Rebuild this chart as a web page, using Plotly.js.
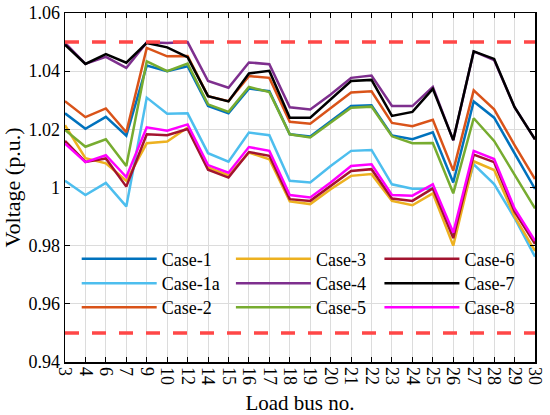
<!DOCTYPE html>
<html>
<head>
<meta charset="utf-8">
<script src="https://cdn.plot.ly/plotly-3.0.1.min.js"></script>
<style>html,body{margin:0;padding:0;background:#fff}#chart{width:550px;height:415px}</style>
</head>
<body>
<div id="chart"></div>
<script>
const buses = ['3','4','6','7','9','10','12','14','15','16','17','18','19','20','21','22','23','24','25','26','27','28','29','30'];

const case1  = [1.0255,1.0202,1.0243,1.0178,1.0419,1.0400,1.0417,1.0280,1.0255,1.0340,1.0331,1.0183,1.0175,1.0228,1.0280,1.0283,1.0179,1.0166,1.0190,1.0017,1.0296,1.0240,1.0115,0.9995];
const case1a = [1.0023,0.9974,1.0016,0.9935,1.0309,1.0254,1.0255,1.0118,1.0089,1.0189,1.0180,1.0023,1.0017,1.0074,1.0126,1.0129,1.0011,0.9996,0.9996,0.9835,1.0080,1.0012,0.9895,0.9762];
const case2  = [1.0297,1.0242,1.0272,1.0190,1.0480,1.0451,1.0452,1.0314,1.0297,1.0383,1.0377,1.0226,1.0219,1.0274,1.0327,1.0331,1.0222,1.0211,1.0233,1.0058,1.0334,1.0269,1.0146,1.0029];
const case3  = [1.0214,1.0101,1.0083,1.0023,1.0152,1.0158,1.0206,1.0069,1.0042,1.0120,1.0097,0.9952,0.9943,0.9994,1.0040,1.0046,0.9954,0.9939,0.9980,0.9800,1.0090,1.0060,0.9900,0.9782];
const case4  = [1.0497,1.0425,1.0449,1.0411,1.0499,1.0497,1.0500,1.0366,1.0343,1.0430,1.0424,1.0276,1.0268,1.0320,1.0377,1.0385,1.0280,1.0280,1.0346,1.0162,1.0468,1.0438,1.0276,1.0166];
const case5  = [1.0198,1.0140,1.0166,1.0074,1.0434,1.0400,1.0426,1.0286,1.0260,1.0346,1.0328,1.0183,1.0172,1.0223,1.0274,1.0278,1.0176,1.0152,1.0153,0.9980,1.0238,1.0160,1.0045,0.9928];
const case6  = [1.0160,1.0088,1.0100,1.0003,1.0183,1.0180,1.0201,1.0061,1.0034,1.0122,1.0109,0.9960,0.9954,1.0006,1.0057,1.0063,0.9962,0.9954,0.9997,0.9826,1.0113,1.0087,0.9917,0.9806];
const case7  = [1.0491,1.0425,1.0459,1.0429,1.0497,1.0482,1.0448,1.0314,1.0296,1.0392,1.0401,1.0240,1.0240,1.0302,1.0366,1.0370,1.0246,1.0260,1.0339,1.0163,1.0468,1.0442,1.0276,1.0166];
const case8  = [1.0151,1.0087,1.0111,1.0036,1.0207,1.0195,1.0217,1.0077,1.0051,1.0139,1.0126,0.9974,0.9966,1.0017,1.0074,1.0080,0.9974,0.9972,1.0011,0.9845,1.0126,1.0098,0.9928,0.9817];

const seriesNames = ['Case-1','Case-1a','Case-2','Case-3','Case-4','Case-5','Case-6','Case-7','Case-8'];
const seriesData = [case1, case1a, case2, case3, case4, case5, case6, case7, case8];
const seriesColors = ['#0072BD','#4DBEEE','#D95319','#EDB120','#7E2F8E','#77AC30','#A2142F','#000000','#FF00FF'];

const upperLimit = 1.05;
const lowerLimit = 0.95;
const yTicks = [0.94, 0.96, 0.98, 1, 1.02, 1.04, 1.06];
const yTickText = ['0.94', '0.96', '0.98', '1', '1.02', '1.04', '1.06'];

const FONT = 'Liberation Serif';

// legend grid: 3 columns x 3 rows (column-major, as in the reference)
const legendColX = [0.0249, 0.353, 0.669];
const legendRowY = [0.2951, 0.2250, 0.1562];

const legendId = (i) => (i === 0 ? 'legend' : 'legend' + (i + 1));

const traces = seriesData.map((vals, i) => ({
  type: 'scatter',
  mode: 'lines',
  x: buses,
  y: vals,
  name: seriesNames[i],
  legend: legendId(i),
  line: {color: seriesColors[i], width: 2.5},
  hoverinfo: 'x+y+name'
}));

const limitShape = (v) => ({
  type: 'line', xref: 'paper', x0: 0, x1: 1, yref: 'y', y0: v, y1: v,
  line: {color: '#FF4747', width: 3.5, dash: '14px,13px'}, layer: 'above'
});

const layout = {
  width: 550, height: 415,
  margin: {l: 65, r: 15, t: 13, b: 53},
  paper_bgcolor: '#ffffff',
  plot_bgcolor: '#ffffff',
  font: {family: FONT, color: '#000', size: 18},
  showlegend: true,
  xaxis: {
    type: 'category',
    range: [0, buses.length - 1],
    tickmode: 'array',
    tickvals: buses,
    ticktext: buses,
    tickangle: 90,
    ticks: 'inside', ticklen: 5, tickcolor: '#000',
    showline: true, linecolor: '#000', linewidth: 1.5, mirror: 'ticks',
    showgrid: true, gridcolor: '#dcdcdc', gridwidth: 1,
    zeroline: false,
    tickfont: {family: FONT, size: 18, color: '#000'},
    title: {text: 'Load bus no.', font: {family: FONT, size: 21, color: '#000'}}
  },
  yaxis: {
    range: [0.94, 1.06],
    tickmode: 'array',
    tickvals: yTicks, ticktext: yTickText,
    ticks: 'inside', ticklen: 5, tickcolor: '#000',
    showline: true, linecolor: '#000', linewidth: 1.5, mirror: 'ticks',
    showgrid: true, gridcolor: '#dcdcdc', gridwidth: 1,
    zeroline: false,
    tickfont: {family: FONT, size: 18, color: '#000'},
    title: {text: 'Voltage (p.u.)', font: {family: FONT, size: 22, color: '#000'}, standoff: 5}
  },
  shapes: [limitShape(upperLimit), limitShape(lowerLimit)]
};

seriesNames.forEach((nm, i) => {
  layout[legendId(i)] = {
    orientation: 'v',
    x: legendColX[Math.floor(i / 3)],
    y: legendRowY[i % 3],
    xanchor: 'left', yanchor: 'middle',
    bgcolor: 'rgba(0,0,0,0)',
    borderwidth: 0,
    font: {family: FONT, size: 18, color: '#000'},
    itemwidth: 75
  };
});

Plotly.newPlot('chart', traces, layout, {displayModeBar: false, staticPlot: true});
</script>
</body>
</html>
